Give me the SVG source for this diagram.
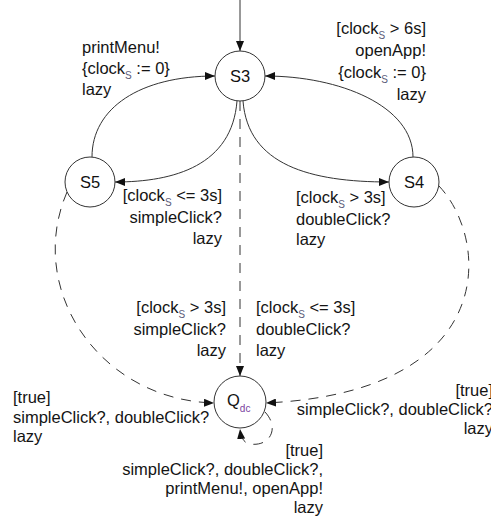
<svg xmlns="http://www.w3.org/2000/svg" width="491" height="519" viewBox="0 0 491 519">
  <style>
    .state { fill: #ffffff; stroke: #333333; stroke-width: 1; }
    .name { font-family: "Liberation Sans", Arial, sans-serif; font-size: 16.5px; fill: #111111; text-anchor: middle; }
    .lbl { font-family: "Liberation Sans", Arial, sans-serif; font-size: 16.5px; fill: #141414; }
    .end { text-anchor: end; }
    .sub { font-size: 10px; fill: #5c5c7a; }
    .subq { font-size: 10px; fill: #7a3fa0; }
    .edge { fill: none; stroke: #333333; stroke-width: 1; }
    .dash { stroke-dasharray: 10 8; }
  </style>
  <defs>
    <marker id="arrow" viewBox="0 0 10 8" refX="10" refY="4" markerWidth="10" markerHeight="8" markerUnits="userSpaceOnUse" orient="auto">
      <path d="M0,0 L10,4 L0,8 z" fill="#111111"/>
    </marker>
  </defs>

  <!-- transitions -->
  <g id="connectors">
    <!-- initial -->
    <path class="edge" d="M240 0 L240 51" marker-end="url(#arrow)"/>
    <!-- S5 -> S3 -->
    <path class="edge" d="M92 157 C92 108, 140 76, 215 76" marker-end="url(#arrow)"/>
    <!-- S4 -> S3 -->
    <path class="edge" d="M413 157 C413 106, 340 76, 265 76" marker-end="url(#arrow)"/>
    <!-- S3 -> S5 -->
    <path class="edge" d="M237 101 C232 165, 175 182, 115 182" marker-end="url(#arrow)"/>
    <!-- S3 -> S4 -->
    <path class="edge" d="M243 101 C248 165, 310 182, 389 182" marker-end="url(#arrow)"/>
    <!-- S3 -> Qdc -->
    <path class="edge dash" d="M240 101 L240 376" marker-end="url(#arrow)"/>
    <!-- S5 -> Qdc -->
    <path class="edge dash" d="M67 192 C25 290, 100 400, 214 403" marker-end="url(#arrow)"/>
    <!-- S4 -> Qdc -->
    <path class="edge dash" d="M439 186 C490 240, 500 392, 266 403" marker-end="url(#arrow)"/>
    <!-- Qdc self loop -->
    <path class="edge dash" d="M265 412 C280 428, 270 447, 250 444 C244 443, 241 438, 240 429" marker-end="url(#arrow)"/>
  </g>

  <!-- states -->
  <g id="S3">
    <circle class="state" cx="240" cy="76" r="25"/>
    <text class="name" x="240" y="82">S3</text>
  </g>
  <g id="S5">
    <circle class="state" cx="90" cy="182" r="25"/>
    <text class="name" x="90" y="188">S5</text>
  </g>
  <g id="S4">
    <circle class="state" cx="414" cy="182" r="25"/>
    <text class="name" x="414" y="188">S4</text>
  </g>
  <g id="Qdc">
    <circle class="state" cx="240" cy="402" r="26"/>
    <text class="lbl" x="227" y="406">Q<tspan class="subq" dy="6">dc</tspan></text>
  </g>

  <!-- transition labels -->
  <g id="labels">
    <g id="label-S5-S3">
      <text class="lbl" x="82" y="53">printMenu!</text>
      <text class="lbl" x="82" y="74">{clock<tspan class="sub" dy="5">S</tspan><tspan dy="-5"> := 0}</tspan></text>
      <text class="lbl" x="82" y="95">lazy</text>
    </g>
    <g id="label-S4-S3">
      <text class="lbl end" x="426" y="34">[clock<tspan class="sub" dy="5">S</tspan><tspan dy="-5"> &gt; 6s]</tspan></text>
      <text class="lbl end" x="426" y="56">openApp!</text>
      <text class="lbl end" x="426" y="78">{clock<tspan class="sub" dy="5">S</tspan><tspan dy="-5"> := 0}</tspan></text>
      <text class="lbl end" x="426" y="100">lazy</text>
    </g>
    <g id="label-S3-S5">
      <text class="lbl end" x="222" y="201">[clock<tspan class="sub" dy="5">S</tspan><tspan dy="-5"> &lt;= 3s]</tspan></text>
      <text class="lbl end" x="222" y="223">simpleClick?</text>
      <text class="lbl end" x="222" y="244">lazy</text>
    </g>
    <g id="label-S3-S4">
      <text class="lbl" x="296" y="203">[clock<tspan class="sub" dy="5">S</tspan><tspan dy="-5"> &gt; 3s]</tspan></text>
      <text class="lbl" x="296" y="225">doubleClick?</text>
      <text class="lbl" x="296" y="245">lazy</text>
    </g>
    <g id="label-S3-Qdc-a">
      <text class="lbl end" x="226" y="313">[clock<tspan class="sub" dy="5">S</tspan><tspan dy="-5"> &gt; 3s]</tspan></text>
      <text class="lbl end" x="226" y="335">simpleClick?</text>
      <text class="lbl end" x="226" y="356">lazy</text>
    </g>
    <g id="label-S3-Qdc-b">
      <text class="lbl" x="256" y="313">[clock<tspan class="sub" dy="5">S</tspan><tspan dy="-5"> &lt;= 3s]</tspan></text>
      <text class="lbl" x="256" y="335">doubleClick?</text>
      <text class="lbl" x="256" y="356">lazy</text>
    </g>
    <g id="label-S5-Qdc">
      <text class="lbl" x="13" y="403">[true]</text>
      <text class="lbl" x="13" y="423">simpleClick?, doubleClick?</text>
      <text class="lbl" x="13" y="442">lazy</text>
    </g>
    <g id="label-S4-Qdc">
      <text class="lbl end" x="493" y="396">[true]</text>
      <text class="lbl end" x="493" y="415">simpleClick?, doubleClick?</text>
      <text class="lbl end" x="493" y="434">lazy</text>
    </g>
    <g id="label-Qdc-Qdc">
      <text class="lbl end" x="323" y="456">[true]</text>
      <text class="lbl end" x="323" y="475">simpleClick?, doubleClick?,</text>
      <text class="lbl end" x="323" y="494">printMenu!, openApp!</text>
      <text class="lbl end" x="323" y="513">lazy</text>
    </g>
  </g>
</svg>
